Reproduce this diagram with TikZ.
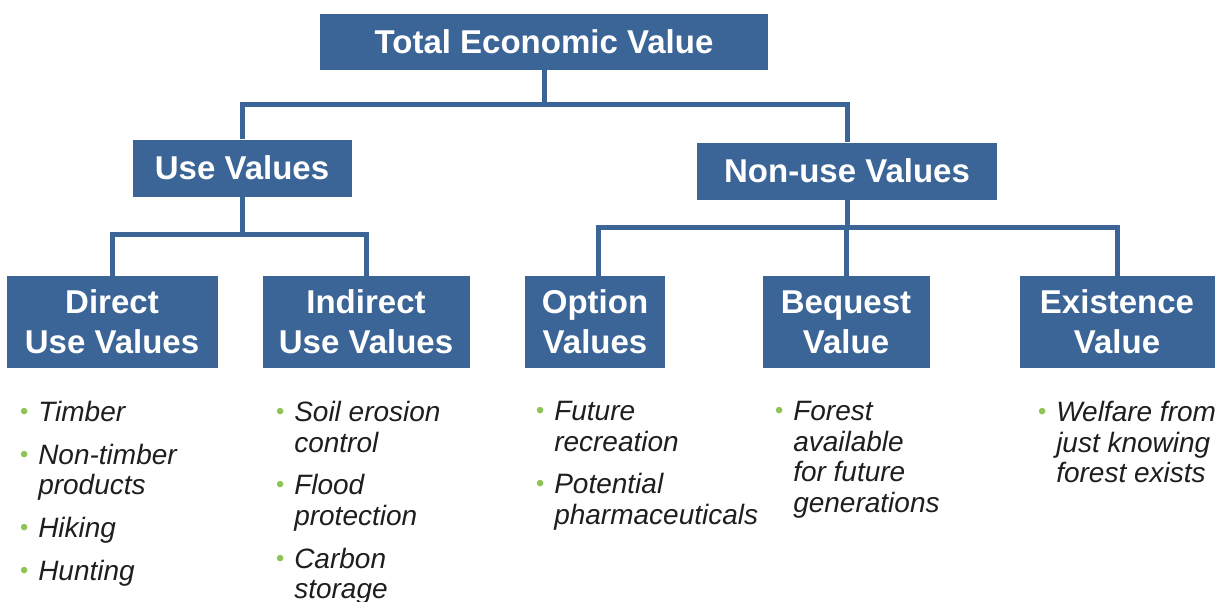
\documentclass[tikz,border=0pt]{standalone}
\usepackage{fontspec}
\setmainfont{Liberation Sans}

\definecolor{boxblue}{HTML}{3B6497}
\definecolor{bulletgreen}{HTML}{8DC455}
\definecolor{itemgray}{HTML}{1E1E1E}

% small green bullet hanging left of an item
\newcommand{\gbul}{\llap{\textcolor{bulletgreen}{\raisebox{1.5pt}{\scalebox{0.85}{\textbullet}}}\hspace{7.5pt}}}

\tikzset{
  valuebox/.style={fill=boxblue, text=white, inner sep=0pt, align=center,
    font=\bfseries\fontsize{24.75}{30}\selectfont},
  link/.style={draw=boxblue, line width=3.75pt},
  items/.style={anchor=north west, inner sep=0pt, align=left, text=itemgray,
    font=\itshape\fontsize{21}{23}\selectfont}
}

\begin{document}
\begin{tikzpicture}[x=0.75pt, y=-0.75pt]
    \useasboundingbox (0,0) rectangle (1220,601);

    \node[valuebox, minimum width=336pt, minimum height=42pt]       (tev)       at (544, 42)  {Total Economic Value};
    \node[valuebox, minimum width=164.25pt, minimum height=42.75pt] (use)       at (242, 168) {Use Values};
    \node[valuebox, minimum width=225pt, minimum height=42.75pt]    (nonuse)    at (847, 171) {Non-use Values};
    \node[valuebox, minimum width=158.25pt, minimum height=69pt]    (direct)    at (112, 322) {Direct\\Use Values};
    \node[valuebox, minimum width=155.25pt, minimum height=69pt]    (indirect)  at (366, 322) {Indirect\\Use Values};
    \node[valuebox, minimum width=105pt, minimum height=69pt]       (option)    at (595, 322) {Option\\Values};
    \node[valuebox, minimum width=125.25pt, minimum height=69pt]    (bequest)   at (846, 322) {Bequest\\Value};
    \node[valuebox, minimum width=146.25pt, minimum height=69pt]    (existence) at (1117, 322) {Existence\\Value};

    \draw[link] (tev.south) -- ++(0,34) -| (use);
    \draw[link] (tev.south) -- ++(0,34) -| (nonuse);
    \draw[link] (use.south) -- ++(0,38) -| (direct);
    \draw[link] (use.south) -- ++(0,38) -| (indirect);
    \draw[link] (nonuse.south) -- ++(0,28) -| ([xshift=2.25pt]option.north);
    \draw[link] (nonuse.south) -- ++(0,28) -| (bequest);
    \draw[link] (nonuse.south) -- ++(0,28) -| (existence);

    \node[items] (dlist) at (38, 401)
        {\gbul Timber\\[9pt] \gbul Non-timber\\products\\[9pt] \gbul Hiking\\[9pt] \gbul Hunting};
    \node[items] (ilist) at (294, 401)
        {\gbul Soil erosion\\control\\[9pt] \gbul Flood\\protection\\[9pt] \gbul Carbon\\storage};
    \node[items] (olist) at (554, 401)
        {\gbul Future\\recreation\\[9pt] \gbul Potential\\pharmaceuticals};
    \node[items] (blist) at (793, 401)
        {\gbul Forest\\available\\for future\\generations};
    \node[items] (elist) at (1056, 401)
        {\gbul Welfare from\\just knowing\\forest exists};
\end{tikzpicture}
\end{document}
